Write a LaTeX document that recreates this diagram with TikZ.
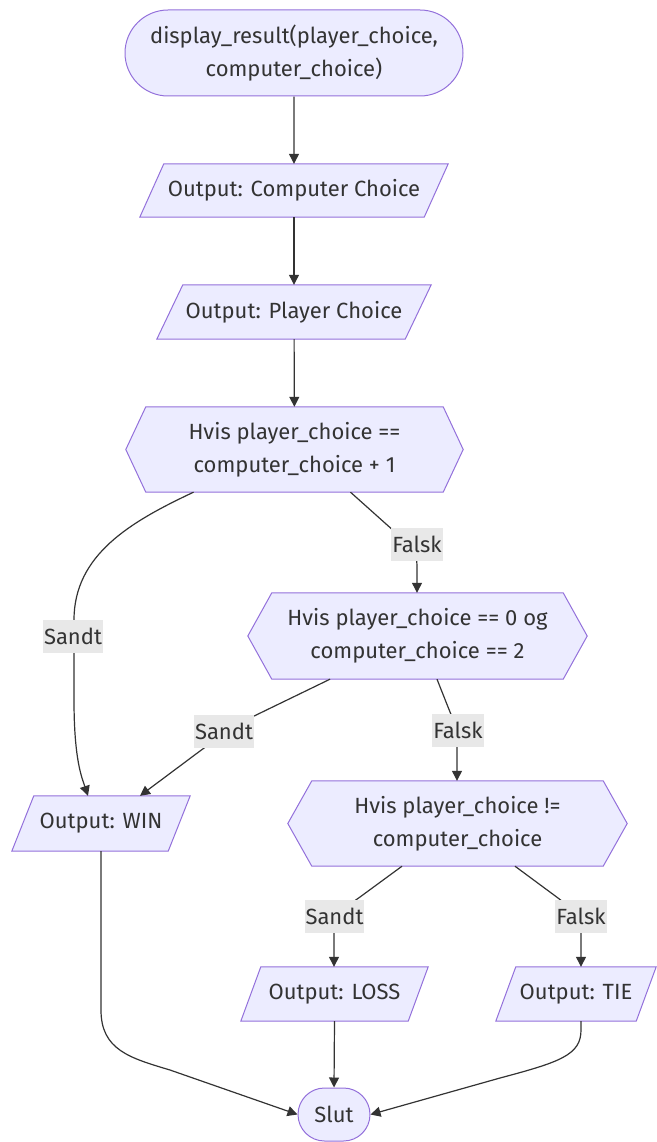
\documentclass[tikz,border=0pt]{standalone}
\usepackage{fontspec}
\setmainfont{Fira Sans}
\usetikzlibrary{arrows.meta,calc,shapes.misc,backgrounds}
\definecolor{nodefill}{HTML}{ECECFF}
\definecolor{nodeline}{HTML}{9370DB}
\definecolor{edgecol}{HTML}{333333}
\definecolor{lblbg}{HTML}{E8E8E8}
\newcommand\fs{\fontsize{22}{33}\selectfont}
\tikzset{
  txt/.style={inner sep=0pt, align=center, font=\fs, text=edgecol},
  stadium/.style={txt, rounded rectangle, draw=nodeline, fill=nodefill, line width=1pt},
  shapeline/.style={draw=nodeline, fill=nodefill, line width=1pt, line join=miter},
  lbl/.style={fill=lblbg, inner xsep=1pt, inner ysep=0pt, minimum height=33pt, font=\fs, text=edgecol},
  arr/.style={draw=edgecol, line width=1.2pt, -{Triangle[length=10pt,width=10pt]}},
  ln/.style={draw=edgecol, line width=1.2pt}
}
\newcommand\para[2]{% name, slant
  \draw[shapeline] ($(#1.north west)+(#2,0)$) -- (#1.north east) -- ($(#1.south east)-(#2,0)$) -- (#1.south west) -- cycle;}
\newcommand\hexa[2]{% name, indent
  \draw[shapeline] (#1.west) -- ($(#1.north west)+(#2,0)$) -- ($(#1.north east)-(#2,0)$) -- (#1.east) -- ($(#1.south east)-(#2,0)$) -- ($(#1.south west)+(#2,0)$) -- cycle;}
\begin{document}
\begin{tikzpicture}[x=1pt,y=-1pt]
\useasboundingbox (0,0) rectangle (656,1142);
% nodes
\node[stadium, minimum width=338pt, minimum height=86pt] (start) at (294,53) {display\_result(player\_choice,\\computer\_choice)};
\node[txt, minimum width=308pt, minimum height=53pt] (p1) at (294,190.5) {Output: Computer Choice};
\node[txt, minimum width=274pt, minimum height=54pt] (p2) at (294,312) {Output: Player Choice};
\node[txt, minimum width=337pt, minimum height=85pt] (h1) at (294.5,449.5) {Hvis player\_choice ==\\computer\_choice + 1};
\node[txt, minimum width=339pt, minimum height=86pt] (h2) at (417.5,636) {Hvis player\_choice == 0 og\\computer\_choice == 2};
\node[txt, minimum width=339pt, minimum height=85pt] (h3) at (457.5,823.5) {Hvis player\_choice !=\\computer\_choice};
\node[txt, minimum width=178pt, minimum height=55pt] (win) at (101,823.5) {Output: WIN};
\node[txt, minimum width=187pt, minimum height=54pt] (loss) at (334.5,994) {Output: LOSS};
\node[txt, minimum width=160pt, minimum height=54pt] (tie) at (576,994) {Output: TIE};
\node[stadium, minimum width=72pt, minimum height=53pt] (slut) at (334,1114.5) {Slut};
\begin{scope}[on background layer]
\para{p1}{24}
\para{p2}{26}
\para{win}{22}
\para{loss}{20}
\para{tie}{20}
\hexa{h1}{20}
\hexa{h2}{24}
\hexa{h3}{24}
\end{scope}
% edges
\draw[arr] (start) -- (p1);
\draw[arr] (p1) -- (p2);
\draw[arr] (p2) -- (h1);
\draw[arr] ($(h1.south)+(-101,0)$) .. controls (130,522) and (74,555) .. (74,620) -- (74,700) .. controls (74,760) and (82,778) .. ($(win.north)+(-13,0)$);
\draw[arr] ($(h1.south)+(56,0)$) -- (395,532) .. controls (412,547) and (417,552) .. (417,566) -- ($(h2.north)+(-0.5,0)$);
\draw[arr] ($(h2.south)+(-87.5,0)$) -- (250,718) .. controls (232,728) and (215,740) .. (200,751) -- ($(win.north)+(39,0)$);
\draw[arr] ($(h2.south)+(19.5,0)$) -- (450,712) .. controls (456,726) .. (457,742) -- ($(h3.north)+(-0.5,0)$);
\draw[arr] ($(h3.south)+(-55.5,0)$) -- (360,897) .. controls (340,911) and (334,918) .. (334,936) -- ($(loss.north)+(-0.5,0)$);
\draw[arr] ($(h3.south)+(57.5,0)$) -- (558,898) .. controls (576,912) and (581,918) .. (581,936) -- ($(tie.north)+(5,0)$);
\draw[arr] (win.south) -- (101,1010) .. controls (101,1050) and (130,1058) .. (170,1070) -- (slut.west);
\draw[arr] (loss.south) -- (slut.north);
\draw[arr] ($(tie.south)+(5,0)$) -- (581,1030) .. controls (581,1055) and (560,1062) .. (500,1078) -- (slut.east);
% labels
\node[lbl] (l1) at (73,636) {Sandt};
\node[lbl] (l2) at (417,544) {Falsk};
\node[lbl] (l3) at (224,731) {Sandt};
\node[lbl] (l4) at (458,730) {Falsk};
\node[lbl] (l5) at (334.5,916) {Sandt};
\node[lbl] (l6) at (581,916) {Falsk};
\end{tikzpicture}
\end{document}
